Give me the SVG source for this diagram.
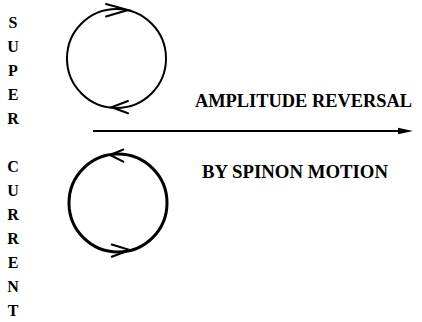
<svg xmlns="http://www.w3.org/2000/svg" width="422" height="322" viewBox="0 0 422 322">
<style>
.ring{fill:none;stroke:#000}
.chev{fill:none;stroke:#000;stroke-width:2;stroke-linecap:round;stroke-linejoin:miter}
</style>
<rect width="422" height="322" fill="#fff"/>
<g id="side-label" font-family="Liberation Serif, DejaVu Serif, serif" font-weight="bold" font-size="16" text-anchor="middle" fill="#000">
<text x="13" y="28">S</text>
<text x="13" y="52">U</text>
<text x="13" y="76">P</text>
<text x="13" y="100">E</text>
<text x="13" y="124">R</text>
<text x="13" y="172">C</text>
<text x="13" y="196">U</text>
<text x="13" y="220">R</text>
<text x="13" y="244">R</text>
<text x="13" y="268">E</text>
<text x="13" y="292">N</text>
<text x="13" y="316">T</text>
</g>
<g id="loop-top">
<circle class="ring" cx="116.5" cy="58.5" r="49.5" stroke-width="2"/>
<polyline class="chev" points="106,4 128,10 106,16.5"/>
<polyline class="chev" points="128,101 111.5,107.3 128,113.3"/>
</g>
<g id="loop-bottom">
<circle class="ring" cx="118" cy="203" r="49" stroke-width="3"/>
<polyline class="chev" points="123.3,149.5 110,155 123.3,161.7"/>
<polyline class="chev" points="111.7,244.5 130,250 111.7,256.7"/>
</g>
<g id="labels" font-family="Liberation Serif, DejaVu Serif, serif" font-weight="bold" font-size="18" fill="#000">
<text id="label-top" x="195" y="107" textLength="217" lengthAdjust="spacingAndGlyphs">AMPLITUDE REVERSAL</text>
<text id="label-bottom" x="202" y="178" textLength="186" lengthAdjust="spacingAndGlyphs">BY SPINON MOTION</text>
</g>
<g id="connectors">
<line x1="93" y1="131" x2="400" y2="131" stroke="#000" stroke-width="2"/>
<polygon points="398,127.8 413,131 398,134.2" fill="#000"/>
</g>
</svg>
